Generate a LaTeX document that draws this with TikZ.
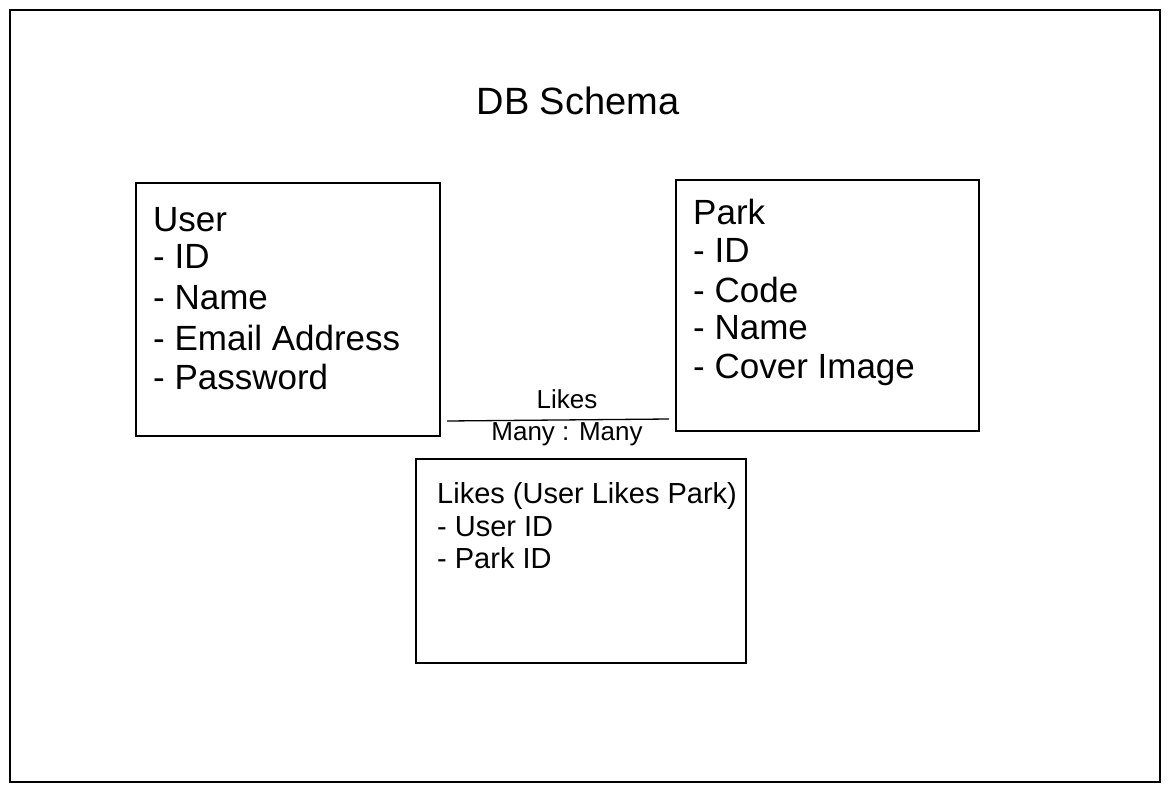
\documentclass[tikz,border=0pt]{standalone}
\usepackage{fontspec}
\setmainfont{Liberation Sans}
\begin{document}
\begin{tikzpicture}[x=1pt,y=-1pt,
  frame/.style={draw=black, line width=1.1pt},
  entity/.style={draw=black, line width=1.6pt, rectangle, inner sep=0pt},
  big/.style={font=\fontsize{35}{40}\selectfont, anchor=base west, inner sep=0pt},
  mid/.style={font=\fontsize{29}{32}\selectfont, anchor=base west, inner sep=0pt},
  small/.style={font=\fontsize{26}{30}\selectfont, inner sep=0pt},
  rel/.style={draw=black, line width=1.3pt}]
\useasboundingbox (0,0) rectangle (1169,792);
\fill[white] (0,0) rectangle (1169,792);
\draw[frame] (10,10) rectangle (1160,782);
% title
\node[font=\fontsize{38}{44}\selectfont, anchor=base, inner sep=0pt] (title) at (578,114) {DB Schema};
% user box
\draw[entity] (136,183) rectangle (440,436);
\node[big] (u0) at (153,231) {User};
\node[big] (u1) at (153,268) {- ID};
\node[big] (u2) at (153,309) {- Name};
\node[big] (u3) at (153,350) {- Email Address};
\node[big] (u4) at (153,389) {- Password};
% park box
\draw[entity] (676,180) rectangle (979,431);
\node[big] (p0) at (693,224) {Park};
\node[big] (p1) at (693,262) {- ID};
\node[big] (p2) at (693,302) {- Code};
\node[big] (p3) at (693,339) {- Name};
\node[big] (p4) at (693,378) {- Cover Image};
% relation
\coordinate (ra) at (447,421);
\coordinate (rb) at (669,419);
\draw[rel] (ra) -- (rb);
\node[small, anchor=base] (rlab) at (567,408) {Likes};
\node[small, anchor=base] (rcard) at (567,440) {Many : Many};
% likes box
\draw[entity] (416,459) rectangle (746,663);
\node[mid] (l0) at (437,503) {Likes (User Likes Park)};
\node[mid] (l1) at (437,536) {- User ID};
\node[mid] (l2) at (437,568) {- Park ID};
\end{tikzpicture}
\end{document}
